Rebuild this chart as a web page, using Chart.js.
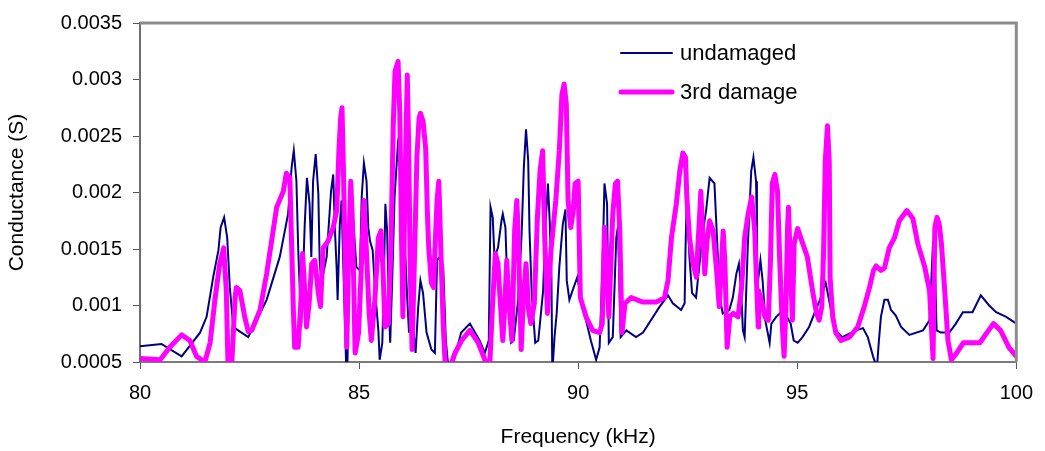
<!DOCTYPE html>
<html>
<head>
<meta charset="utf-8">
<script src="https://cdn.jsdelivr.net/npm/chart.js@4.4.1/dist/chart.umd.min.js"></script>
<style>
  body { margin: 0; background: #ffffff; }
  #wrap { width: 1045px; height: 451px; }
</style>
</head>
<body>
<div id="wrap"><canvas id="chart" width="1045" height="451"></canvas></div>
<script>
// frequency in kHz, conductance in S
var undamagedFreq = [
  80.00, 80.49, 80.95, 81.37, 81.52, 81.67, 81.79, 81.84, 81.92, 81.99, 82.05, 82.13, 82.24, 82.47, 82.89,
  83.19, 83.38, 83.46, 83.51, 83.57, 83.61, 83.68, 83.76, 83.81, 83.87, 83.91, 83.95, 84.01, 84.07, 84.10,
  84.14, 84.26, 84.36, 84.41, 84.45, 84.49, 84.51, 84.56, 84.60, 84.65, 84.71, 84.73, 84.79, 84.86, 84.94,
  85.02, 85.06, 85.11, 85.17, 85.21, 85.25, 85.31, 85.36, 85.44, 85.47, 85.53, 85.56, 85.60, 85.64, 85.68,
  85.71, 85.76, 85.81, 85.89, 85.93, 85.99, 86.04, 86.10, 86.14, 86.20, 86.23, 86.29, 86.35, 86.40, 86.46,
  86.54, 86.65, 86.73, 86.78, 86.84, 86.92, 86.98, 87.03, 87.14, 87.33, 87.53, 87.75, 87.87, 87.96, 87.98,
  88.00, 88.05, 88.09, 88.17, 88.25, 88.28, 88.34, 88.39, 88.47, 88.53, 88.63, 88.71, 88.76, 88.81, 88.86,
  88.89, 88.94, 89.02, 89.09, 89.20, 89.26, 89.31, 89.35, 89.39, 89.41, 89.46, 89.51, 89.57, 89.65, 89.71,
  89.74, 89.80, 89.87, 89.98, 90.14, 90.29, 90.41, 90.49, 90.56, 90.60, 90.66, 90.70, 90.79, 90.87, 90.91,
  90.97, 91.10, 91.32, 91.48, 91.86, 92.05, 92.16, 92.35, 92.43, 92.45, 92.48, 92.54, 92.60, 92.69, 92.77,
  92.85, 92.92, 93.00, 93.11, 93.15, 93.23, 93.30, 93.45, 93.53, 93.61, 93.67, 93.72, 93.76, 93.80, 93.87,
  93.95, 94.00, 94.06, 94.08, 94.09, 94.10, 94.16, 94.21, 94.27, 94.37, 94.41, 94.52, 94.68, 94.85, 94.92,
  95.01, 95.12, 95.27, 95.42, 95.54, 95.65, 95.77, 95.88, 96.03, 96.34, 96.50, 96.61, 96.73, 96.82, 96.86,
  96.91, 96.99, 97.07, 97.14, 97.25, 97.37, 97.56, 97.87, 98.02, 98.10, 98.14, 98.18, 98.28, 98.47, 98.62,
  98.78, 99.00, 99.19, 99.38, 99.54, 99.77, 100.00
];
var undamagedG = [
  0.00064, 0.00066, 0.00055, 0.00076, 0.00090, 0.00125, 0.00149, 0.00169, 0.00178, 0.00160, 0.00116, 0.00081, 0.00078, 0.00072, 0.00105,
  0.00143, 0.00181, 0.00222, 0.00237, 0.00210, 0.00151, 0.00081, 0.00172, 0.00213, 0.00190, 0.00143, 0.00210, 0.00234, 0.00199, 0.00140,
  0.00120, 0.00143, 0.00201, 0.00216, 0.00166, 0.00131, 0.00105, 0.00172, 0.00193, 0.00122, 0.00040, 0.00040, 0.00166, 0.00178, 0.00134,
  0.00131, 0.00196, 0.00226, 0.00210, 0.00169, 0.00157, 0.00149, 0.00116, 0.00078, 0.00052, 0.00067, 0.00111, 0.00190, 0.00166, 0.00099,
  0.00067, 0.00128, 0.00196, 0.00245, 0.00254, 0.00210, 0.00157, 0.00105, 0.00076, 0.00116, 0.00081, 0.00058, 0.00099, 0.00122, 0.00111,
  0.00076, 0.00061, 0.00058, 0.00140, 0.00143, 0.00134, 0.00069, 0.00048, 0.00048, 0.00076, 0.00084, 0.00069, 0.00058, 0.00069, 0.00128,
  0.00187, 0.00178, 0.00143, 0.00151, 0.00175, 0.00181, 0.00169, 0.00111, 0.00067, 0.00069, 0.00105, 0.00163, 0.00222, 0.00256, 0.00228,
  0.00166, 0.00111, 0.00067, 0.00069, 0.00113, 0.00175, 0.00208, 0.00175, 0.00125, 0.00040, 0.00072, 0.00093, 0.00134, 0.00172, 0.00185,
  0.00122, 0.00105, 0.00113, 0.00125, 0.00093, 0.00069, 0.00052, 0.00063, 0.00140, 0.00208, 0.00190, 0.00067, 0.00072, 0.00160, 0.00170,
  0.00072, 0.00078, 0.00072, 0.00076, 0.00099, 0.00109, 0.00102, 0.00096, 0.00102, 0.00149, 0.00199, 0.00143, 0.00111, 0.00107, 0.00137,
  0.00166, 0.00184, 0.00213, 0.00208, 0.00175, 0.00107, 0.00093, 0.00096, 0.00107, 0.00128, 0.00137, 0.00113, 0.00078, 0.00072, 0.00151,
  0.00219, 0.00231, 0.00210, 0.00166, 0.00107, 0.00120, 0.00140, 0.00122, 0.00087, 0.00067, 0.00084, 0.00090, 0.00096, 0.00084, 0.00069,
  0.00067, 0.00072, 0.00081, 0.00096, 0.00107, 0.00120, 0.00096, 0.00078, 0.00072, 0.00078, 0.00080, 0.00072, 0.00055, 0.00045, 0.00067,
  0.00090, 0.00105, 0.00105, 0.00096, 0.00091, 0.00081, 0.00074, 0.00078, 0.00087, 0.00157, 0.00140, 0.00078, 0.00076, 0.00076, 0.00084,
  0.00094, 0.00094, 0.00109, 0.00100, 0.00094, 0.00090, 0.00084
];

var damage3Freq = [
  80.00, 80.46, 80.68, 80.95, 81.14, 81.29, 81.48, 81.60, 81.71, 81.82, 81.91, 81.97, 82.01, 82.09, 82.17,
  82.20, 82.28, 82.39, 82.47, 82.55, 82.74, 82.89, 83.12, 83.27, 83.34, 83.42, 83.46, 83.50, 83.53, 83.61,
  83.67, 83.71, 83.75, 83.80, 83.86, 83.92, 83.99, 84.07, 84.12, 84.18, 84.29, 84.41, 84.49, 84.54, 84.58,
  84.61, 84.64, 84.68, 84.72, 84.75, 84.81, 84.85, 84.91, 84.99, 85.06, 85.11, 85.17, 85.23, 85.28, 85.36,
  85.44, 85.50, 85.55, 85.59, 85.67, 85.73, 85.78, 85.82, 85.89, 85.93, 85.97, 86.00, 86.04, 86.10, 86.13,
  86.17, 86.21, 86.27, 86.32, 86.37, 86.40, 86.46, 86.52, 86.56, 86.59, 86.65, 86.70, 86.74, 86.78, 86.82,
  86.86, 86.92, 86.96, 87.00, 87.07, 87.19, 87.34, 87.53, 87.72, 87.87, 87.98, 88.04, 88.11, 88.17, 88.21,
  88.28, 88.32, 88.37, 88.42, 88.49, 88.55, 88.60, 88.64, 88.70, 88.75, 88.81, 88.87, 88.92, 89.00, 89.07,
  89.13, 89.19, 89.24, 89.30, 89.38, 89.43, 89.49, 89.57, 89.63, 89.68, 89.73, 89.77, 89.83, 89.89, 89.93,
  90.00, 90.05, 90.18, 90.33, 90.49, 90.55, 90.60, 90.66, 90.70, 90.79, 90.85, 90.90, 90.95, 91.00, 91.07,
  91.21, 91.48, 91.78, 91.97, 92.05, 92.13, 92.24, 92.32, 92.39, 92.45, 92.48, 92.54, 92.62, 92.70, 92.73,
  92.77, 92.80, 92.84, 92.89, 92.94, 93.00, 93.08, 93.16, 93.22, 93.27, 93.31, 93.35, 93.40, 93.46, 93.54,
  93.65, 93.73, 93.80, 93.88, 93.96, 94.03, 94.07, 94.11, 94.12, 94.20, 94.26, 94.34, 94.39, 94.43, 94.49,
  94.55, 94.60, 94.66, 94.70, 94.74, 94.78, 94.80, 94.84, 94.89, 94.93, 95.01, 95.08, 95.23, 95.35, 95.44,
  95.50, 95.56, 95.60, 95.64, 95.69, 95.73, 95.75, 95.81, 95.88, 96.00, 96.19, 96.38, 96.53, 96.65, 96.74,
  96.80, 96.91, 96.99, 97.10, 97.22, 97.33, 97.50, 97.64, 97.75, 97.91, 98.02, 98.10, 98.14, 98.19, 98.24,
  98.29, 98.37, 98.44, 98.52, 98.64, 98.79, 99.17, 99.33, 99.48, 99.64, 99.83, 100.00
];
var damage3G = [
  0.00053, 0.00052, 0.00063, 0.00074, 0.00069, 0.00055, 0.00050, 0.00067, 0.00105, 0.00137, 0.00151, 0.00113, 0.00045, 0.00045, 0.00107,
  0.00116, 0.00113, 0.00090, 0.00077, 0.00078, 0.00096, 0.00128, 0.00187, 0.00201, 0.00217, 0.00213, 0.00155, 0.00096, 0.00063, 0.00063,
  0.00102, 0.00146, 0.00120, 0.00081, 0.00102, 0.00137, 0.00140, 0.00111, 0.00099, 0.00151, 0.00157, 0.00169, 0.00184, 0.00237, 0.00266,
  0.00275, 0.00225, 0.00146, 0.00063, 0.00128, 0.00210, 0.00172, 0.00058, 0.00076, 0.00143, 0.00193, 0.00146, 0.00093, 0.00069, 0.00105,
  0.00160, 0.00166, 0.00128, 0.00081, 0.00084, 0.00157, 0.00260, 0.00307, 0.00316, 0.00269, 0.00157, 0.00090, 0.00187, 0.00304, 0.00245,
  0.00128, 0.00061, 0.00151, 0.00231, 0.00266, 0.00270, 0.00263, 0.00239, 0.00181, 0.00151, 0.00120, 0.00116, 0.00157, 0.00193, 0.00210,
  0.00157, 0.00084, 0.00052, 0.00045, 0.00045, 0.00058, 0.00069, 0.00078, 0.00067, 0.00052, 0.00045, 0.00096, 0.00146, 0.00137, 0.00111,
  0.00069, 0.00096, 0.00140, 0.00102, 0.00069, 0.00166, 0.00193, 0.00155, 0.00061, 0.00105, 0.00137, 0.00096, 0.00084, 0.00102, 0.00178,
  0.00219, 0.00237, 0.00155, 0.00093, 0.00149, 0.00169, 0.00193, 0.00237, 0.00287, 0.00296, 0.00278, 0.00193, 0.00169, 0.00184, 0.00208,
  0.00210, 0.00107, 0.00090, 0.00078, 0.00076, 0.00084, 0.00169, 0.00125, 0.00090, 0.00181, 0.00208, 0.00210, 0.00166, 0.00076, 0.00102,
  0.00107, 0.00103, 0.00103, 0.00107, 0.00122, 0.00160, 0.00190, 0.00219, 0.00235, 0.00231, 0.00196, 0.00160, 0.00137, 0.00125, 0.00151,
  0.00178, 0.00201, 0.00166, 0.00128, 0.00157, 0.00175, 0.00166, 0.00131, 0.00099, 0.00137, 0.00166, 0.00137, 0.00063, 0.00090, 0.00093,
  0.00090, 0.00116, 0.00160, 0.00181, 0.00196, 0.00166, 0.00122, 0.00081, 0.00113, 0.00102, 0.00090, 0.00087, 0.00140, 0.00208, 0.00216,
  0.00201, 0.00140, 0.00081, 0.00055, 0.00096, 0.00169, 0.00187, 0.00140, 0.00087, 0.00155, 0.00168, 0.00160, 0.00143, 0.00113, 0.00093,
  0.00087, 0.00099, 0.00146, 0.00228, 0.00259, 0.00228, 0.00125, 0.00090, 0.00076, 0.00069, 0.00072, 0.00081, 0.00099, 0.00116, 0.00131,
  0.00135, 0.00131, 0.00133, 0.00151, 0.00160, 0.00175, 0.00184, 0.00177, 0.00155, 0.00134, 0.00113, 0.00053, 0.00169, 0.00178, 0.00172,
  0.00155, 0.00111, 0.00069, 0.00052, 0.00058, 0.00067, 0.00067, 0.00076, 0.00084, 0.00078, 0.00063, 0.00055
];

var xTickValues = [80, 85, 90, 95, 100];
var yTickValues = [0.0005, 0.001, 0.0015, 0.002, 0.0025, 0.003, 0.0035];

function to_points(freqs, values)
{
    var pts = [];
    for (var i = 0; i < freqs.length; i++) {
        pts.push({x: freqs[i], y: values[i]});
    }
    return pts;
}

var FONT = '"Liberation Sans", Arial, sans-serif';

// gray frame on top/right of the plot area, like the Excel plot area border
const plotFrame = {
    id: 'plotFrame',
    afterDatasetsDraw(chart) {
        const a = chart.chartArea;
        const ctx = chart.ctx;
        ctx.save();
        ctx.strokeStyle = '#8c8c8c';
        ctx.lineWidth = 3;
        ctx.beginPath();
        ctx.moveTo(a.left, a.top);
        ctx.lineTo(a.right, a.top);
        ctx.lineTo(a.right, a.bottom);
        ctx.stroke();
        ctx.restore();
    }
};

// legend drawn inside the plot, two rows
const insideLegend = {
    id: 'insideLegend',
    afterDraw(chart) {
        const ctx = chart.ctx;
        const sets = [chart.data.datasets[0], chart.data.datasets[1]];
        ctx.save();
        ctx.textBaseline = 'middle';
        ctx.textAlign = 'left';
        ctx.font = '22px ' + FONT;
        for (let i = 0; i < sets.length; i++) {
            const y = 53 + i * 39;
            ctx.strokeStyle = sets[i].borderColor;
            ctx.lineWidth = sets[i].borderWidth;
            ctx.lineCap = 'round';
            ctx.beginPath();
            ctx.moveTo(621, y);
            ctx.lineTo(672, y);
            ctx.stroke();
            ctx.fillStyle = '#000000';
            ctx.fillText(sets[i].label, 680, y + 1);
        }
        ctx.restore();
    }
};

const ctx = document.getElementById('chart').getContext('2d');
const chart = new Chart(ctx, {
    type: 'line',
    data: {
        datasets: [{
            label: 'undamaged',
            data: to_points(undamagedFreq, undamagedG),
            borderColor: '#000080',
            backgroundColor: '#000080',
            borderWidth: 2,
            pointRadius: 0,
            tension: 0,
            order: 1
        }, {
            label: '3rd damage',
            data: to_points(damage3Freq, damage3G),
            borderColor: '#ff00ff',
            backgroundColor: '#ff00ff',
            borderWidth: 5,
            borderJoinStyle: 'round',
            borderCapStyle: 'round',
            pointRadius: 0,
            tension: 0,
            order: 0
        }]
    },
    options: {
        responsive: false,
        animation: false,
        devicePixelRatio: 1,
        events: [],
        layout: {
            padding: {top: 21, right: 28, left: 0, bottom: 0}
        },
        plugins: {
            legend: {display: false},
            tooltip: {enabled: false}
        },
        scales: {
            x: {
                type: 'linear',
                min: 80,
                max: 100,
                afterBuildTicks: (s) => { s.ticks = xTickValues.map(v => ({value: v})); },
                afterFit: (s) => { s.height = 89; },
                grid: {
                    display: true,
                    drawOnChartArea: false,
                    drawTicks: true,
                    tickLength: 7,
                    tickWidth: 1,
                    tickColor: '#555555'
                },
                border: {display: true, color: '#7a7a7a', width: 2},
                ticks: {
                    color: '#000000',
                    padding: 12,
                    maxRotation: 0,
                    font: {family: FONT, size: 20},
                    callback: (v) => String(v)
                },
                title: {
                    display: true,
                    text: 'Frequency (kHz)',
                    color: '#000000',
                    font: {family: FONT, size: 21},
                    padding: {top: 0, bottom: 1}
                }
            },
            y: {
                type: 'linear',
                min: 0.0005,
                max: 0.0035,
                afterBuildTicks: (s) => { s.ticks = yTickValues.map(v => ({value: v})); },
                afterFit: (s) => { s.width = 140; },
                grid: {
                    display: true,
                    drawOnChartArea: false,
                    drawTicks: true,
                    tickLength: 7,
                    tickWidth: 1,
                    tickColor: '#555555'
                },
                border: {display: true, color: '#6e6e6e', width: 2},
                ticks: {
                    color: '#000000',
                    padding: 11,
                    font: {family: FONT, size: 20},
                    callback: (v) => String(+v.toFixed(4))
                },
                title: {
                    display: true,
                    text: 'Conductance (S)',
                    color: '#000000',
                    font: {family: FONT, size: 21},
                    padding: {top: 5, bottom: 0}
                }
            }
        }
    },
    plugins: [plotFrame, insideLegend]
});
</script>
</body>
</html>
